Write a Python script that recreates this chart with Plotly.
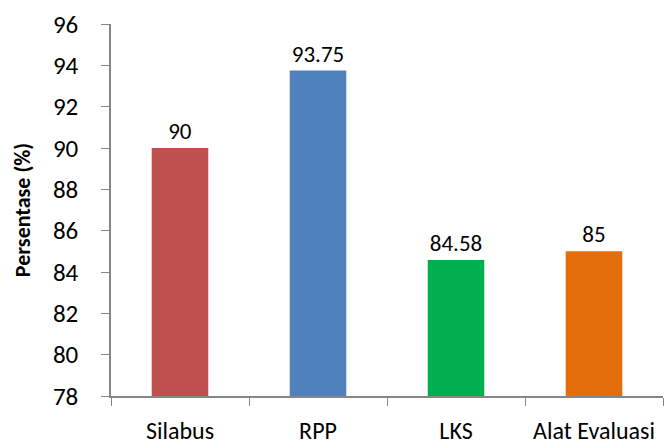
import plotly.graph_objects as go

categories = ["Silabus", "RPP", "LKS", "Alat Evaluasi"]
values = [90, 93.75, 84.58, 85]
labels = ["90", "93.75", "84.58", "85"]
colors = ["#C0504D", "#4F81BD", "#00B050", "#E46C0A"]
y_ticks = [78, 80, 82, 84, 86, 88, 90, 92, 94, 96]

FONT = "Carlito, Lato, sans-serif"

fig = go.Figure(go.Bar(
    x=categories, y=values, marker_color=colors, marker_line_width=0,
    text=labels, textposition="outside", textfont=dict(size=23, color="black", family=FONT),
    cliponaxis=False,
))

fig.update_layout(
    width=664, height=448,
    margin=dict(l=111, r=1, t=24, b=52, autoexpand=False),
    plot_bgcolor="white", paper_bgcolor="white",
    bargap=0.59,
    showlegend=False,
    font=dict(family=FONT, size=24, color="black"),
)
fig.update_yaxes(
    range=[78, 96], tickvals=y_ticks, ticks="outside", ticklen=8, tickcolor="#868686",
    showline=True, linecolor="#868686", linewidth=1.5, showgrid=False, zeroline=False,
    ticklabelstandoff=18, automargin=False, tickfont=dict(size=25),
    title=dict(text="<b>Persentase (%)</b>", font=dict(size=22, family=FONT), standoff=16),
)
fig.update_xaxes(
    ticks="outside", tickson="boundaries", ticklen=8, tickcolor="#868686",
    showline=True, linecolor="#868686", linewidth=1.5, showgrid=False,
    ticklabelstandoff=12, automargin=False, tickfont=dict(size=24),
)

fig.write_html("out.html", config={"displayModeBar": False},
               post_script="document.body.style.margin='0';document.body.style.overflow='hidden';")
